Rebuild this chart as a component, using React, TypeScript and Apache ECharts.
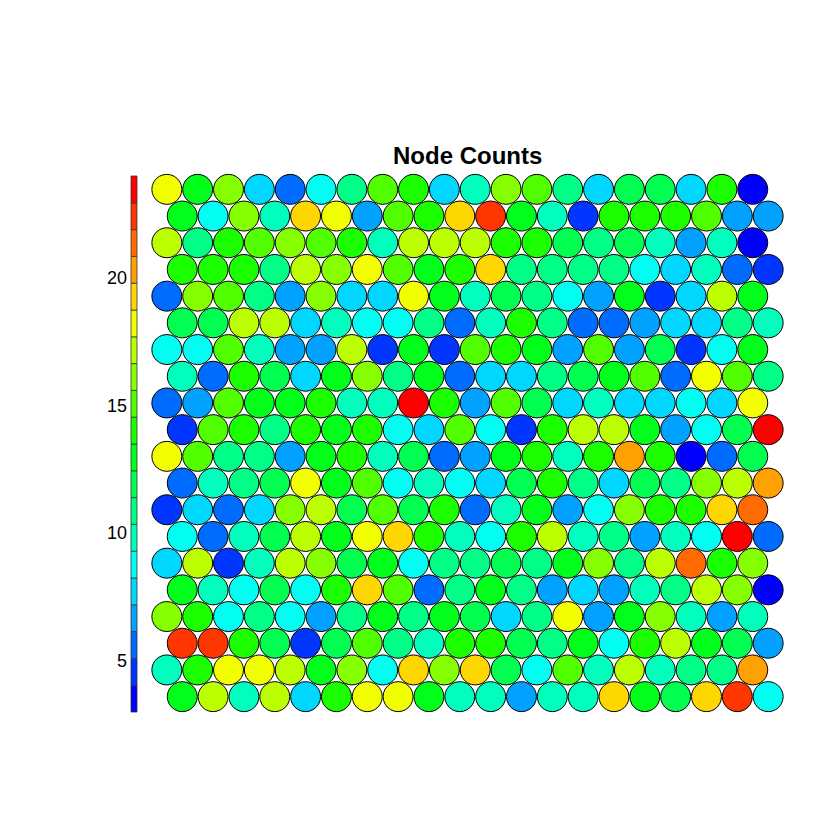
import React, { useEffect, useRef } from "react";
import * as echarts from "echarts";

const chartTitle = "Node Counts";

// Node counts, one array per map row, listed from the top row to the bottom row
const row01 = [18, 13, 16, 8, 6, 9, 11, 15, 14, 8, 10, 16, 15, 11, 8, 12, 12, 8, 14, 3];
const row02 = [13, 9, 16, 10, 19, 18, 7, 15, 14, 19, 22, 13, 10, 5, 14, 14, 14, 15, 7, 7];
const row03 = [17, 11, 14, 15, 16, 15, 14, 10, 17, 17, 17, 14, 14, 12, 11, 12, 10, 7, 10, 3];
const row04 = [14, 14, 14, 11, 17, 16, 18, 15, 13, 14, 19, 11, 11, 11, 11, 9, 8, 10, 6, 5];
const row05 = [6, 16, 15, 11, 7, 16, 8, 8, 18, 13, 10, 12, 11, 9, 7, 13, 5, 8, 17, 13];
const row06 = [12, 12, 17, 17, 8, 10, 9, 9, 11, 6, 10, 14, 11, 6, 6, 7, 8, 8, 11, 10];
const row07 = [9, 9, 15, 10, 7, 7, 17, 5, 13, 5, 15, 14, 13, 7, 15, 7, 12, 5, 9, 13];
const row08 = [10, 6, 14, 12, 8, 13, 16, 11, 13, 6, 8, 8, 11, 12, 13, 15, 6, 18, 15, 11];
const row09 = [6, 7, 15, 13, 13, 14, 10, 10, 24, 14, 7, 15, 12, 8, 10, 8, 8, 9, 8, 18];
const row10 = [5, 15, 14, 11, 14, 13, 14, 9, 8, 15, 9, 5, 14, 17, 17, 13, 7, 9, 12, 24];
const row11 = [18, 15, 11, 11, 7, 13, 14, 10, 12, 6, 7, 13, 14, 10, 14, 20, 14, 3, 6, 12];
const row12 = [6, 10, 11, 12, 18, 13, 15, 9, 10, 9, 8, 12, 14, 11, 8, 12, 11, 16, 17, 20];
const row13 = [5, 8, 6, 8, 16, 17, 12, 15, 12, 14, 6, 10, 13, 7, 9, 16, 14, 14, 19, 21];
const row14 = [9, 6, 10, 12, 17, 13, 18, 19, 14, 10, 9, 14, 17, 10, 11, 7, 10, 9, 24, 6];
const row15 = [8, 17, 5, 10, 17, 16, 12, 13, 9, 11, 11, 12, 11, 13, 16, 11, 17, 21, 14, 16];
const row16 = [13, 10, 9, 12, 9, 14, 19, 15, 6, 11, 13, 11, 7, 8, 7, 10, 11, 17, 16, 3];
const row17 = [16, 14, 9, 11, 9, 7, 11, 13, 11, 13, 12, 8, 11, 18, 7, 13, 16, 10, 7, 10];
const row18 = [22, 22, 14, 12, 5, 12, 15, 11, 10, 14, 14, 12, 11, 13, 9, 14, 17, 13, 12, 7];
const row19 = [10, 14, 18, 18, 17, 13, 16, 9, 19, 16, 19, 12, 9, 15, 10, 17, 10, 11, 11, 20];
const row20 = [13, 17, 10, 17, 8, 14, 18, 18, 13, 10, 10, 7, 10, 10, 19, 13, 12, 19, 22, 9];

const rowsTopToBottom = [
  row01, row02, row03, row04, row05, row06, row07, row08, row09, row10,
  row11, row12, row13, row14, row15, row16, row17, row18, row19, row20,
];

const colorbarLabels = [5, 10, 15, 20];
const nColors = 20;

function hsvHex(h: number): string {
  // s = 1, v = 1
  let r = 0, g = 0, b = 0;
  if (h < 60) { r = 1; g = h / 60; b = 0; }
  else if (h < 120) { r = (120 - h) / 60; g = 1; b = 0; }
  else if (h < 180) { r = 0; g = 1; b = (h - 120) / 60; }
  else { r = 0; g = (240 - h) / 60; b = 1; }
  const f = (v: number) => Math.round(v * 255).toString(16).padStart(2, "0");
  return "#" + f(r) + f(g) + f(b);
}

// coolBlueHotRed: blue (low) -> red (high)
const palette = Array.from({ length: nColors }, (_, k) => hsvHex(240 * (1 - k / (nColors - 1))));

export default function App() {
  const ref = useRef<HTMLDivElement>(null);

  useEffect(() => {
    if (!ref.current) return;
    const chart = echarts.init(ref.current, null, { renderer: "svg" });

    const nRows = rowsTopToBottom.length;
    const all = rowsTopToBottom.flat();
    const zmin = Math.min(...all);
    const zmax = Math.max(...all);
    const step = (zmax - zmin) / nColors;
    const binOf = (v: number) => Math.min(nColors - 1, Math.floor((v - zmin) / step));

    const points: number[][] = [];
    rowsTopToBottom.forEach((row, r) => {
      const j = nRows - 1 - r; // row index from bottom
      const offset = j % 2 === 0 ? 0.5 : 0;
      row.forEach((v, c) => {
        points.push([c + 1 + offset, j, v]);
      });
    });

    const bins = Array.from({ length: nColors }, (_, k) => [0.5, zmin + k * step, zmin + (k + 1) * step, k]);

    const font = "'Liberation Sans', Arial, Helvetica, sans-serif";

    chart.setOption({
      animation: false,
      backgroundColor: "#ffffff",
      title: {
        text: chartTitle,
        left: 393,
        top: 143,
        padding: 0,
        textStyle: { fontSize: 24, fontWeight: "bold", color: "#000", fontFamily: font },
      },
      grid: [
        { left: 136, top: 176, width: 663, height: 534 },
        { left: 131, top: 176, width: 6, height: 536 },
      ],
      xAxis: [
        { type: "value", gridIndex: 0, min: 0, max: 21.5, show: false },
        { type: "value", gridIndex: 1, min: 0, max: 1, show: false },
      ],
      yAxis: [
        { type: "value", gridIndex: 0, min: -0.5, max: 19.5, show: false },
        {
          type: "value",
          gridIndex: 1,
          min: zmin,
          max: zmax,
          interval: 1,
          axisLine: { show: false },
          axisTick: { show: false },
          splitLine: { show: false },
          axisLabel: {
            margin: 4,
            fontSize: 18,
            color: "#000",
            fontFamily: font,
            formatter: (v: number) => (colorbarLabels.includes(v) ? String(v) : ""),
          },
        },
      ],
      series: [
        {
          type: "scatter",
          xAxisIndex: 0,
          yAxisIndex: 0,
          symbol: "circle",
          symbolSize: 30,
          data: points,
          itemStyle: {
            color: (p: any) => palette[binOf(p.value[2])],
            borderColor: "#000",
            borderWidth: 1,
            opacity: 1,
          },
          emphasis: { disabled: true },
        },
        {
          type: "custom",
          xAxisIndex: 1,
          yAxisIndex: 1,
          data: bins,
          encode: { x: 0, y: [1, 2] },
          renderItem: (_params: any, api: any) => {
            const lo = api.value(1);
            const hi = api.value(2);
            const k = api.value(3);
            const p1 = api.coord([0, hi]);
            const p2 = api.coord([1, lo]);
            return {
              type: "rect",
              shape: { x: p1[0], y: p1[1], width: p2[0] - p1[0], height: p2[1] - p1[1] },
              style: { fill: palette[k], stroke: "#333", lineWidth: 0.8 },
            };
          },
        },
      ],
    });

    return () => chart.dispose();
  }, []);

  return (
    <div
      ref={ref}
      style={{ position: "fixed", left: 0, top: 0, width: 840, height: 840, background: "#fff" }}
    />
  );
}
